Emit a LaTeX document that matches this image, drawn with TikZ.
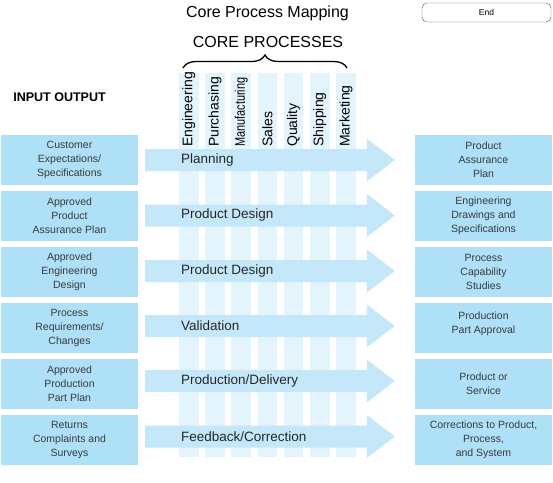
\documentclass[tikz,border=0pt]{standalone}
\usepackage{fontspec}
\setmainfont{Liberation Sans}
\usetikzlibrary{positioning, calc, decorations.pathreplacing}
\definecolor{boxBlue}{HTML}{AEE0F8}
\definecolor{arrowBlue}{HTML}{C4E8FA}
\definecolor{stripeBlue}{HTML}{E3F4FC}
\definecolor{textGray}{HTML}{3A3A3A}
\definecolor{frameGray}{HTML}{555555}

\begin{document}
\begin{tikzpicture}[
    x=1pt, y=-1pt,
    iobox/.style={rectangle, fill=boxBlue, minimum width=137pt, minimum height=50pt,
                  align=center, inner sep=0pt, text=textGray, font=\fontsize{10.5}{14}\selectfont},
    flow/.style={fill=arrowBlue},
    stripe/.style={fill=stripeBlue},
    steplabel/.style={anchor=west, inner sep=0pt, text=black!85, font=\fontsize{13.5}{16}\selectfont},
    dept/.style={rotate=90, anchor=west, inner sep=0pt, font=\fontsize{14}{16}\selectfont},
    heading/.style={inner sep=0pt, font=\fontsize{16}{19}\selectfont}
  ]
    \useasboundingbox (0,0) rectangle (553,482);

    % headings
    \node[heading] (title) at (267.5,13) {Core Process Mapping};
    \node[heading] (core) at (268,42) {CORE PROCESSES};
    \node[inner sep=0pt, font=\fontsize{12.5}{15}\selectfont\bfseries] (io) at (59.5,97) {INPUT OUTPUT};
    \node[draw=frameGray, rounded corners=5pt, minimum width=129pt, minimum height=19pt,
          inner sep=0pt, font=\fontsize{8.5}{10}\selectfont] (endbox) at (486.5,12.5) {End};

    % department columns
    \foreach \c in {0,...,6}
      \fill[stripe] (179+26.2*\c,73) rectangle ++(19.5,384);
    \foreach \c/\name in {0/Engineering, 1/Purchasing, 2/{\scalebox{0.78}[1]{Manufacturing}},
                          3/Sales, 4/Quality, 5/Shipping, 6/Marketing}
      \node[dept] (d\c) at (188.75+26.2*\c,147) {\name};
    \draw[decorate, decoration={brace, amplitude=13pt}, line width=1.3pt] (183,68) -- (347,68);

    % inputs and outputs
    \node[iobox] (in1) at (69.5,160) {Customer\\Expectations/\\Specifications};
    \node[iobox] (in2) at (69.5,216) {Approved\\Product\\Assurance Plan};
    \node[iobox] (in3) at (69.5,272) {Approved\\Engineering\\Design};
    \node[iobox] (in4) at (69.5,328) {Process\\Requirements/\\Changes};
    \node[iobox] (in5) at (69.5,384) {Approved\\Production\\Part Plan};
    \node[iobox] (in6) at (69.5,440) {Returns\\Complaints and\\Surveys};

    \node[iobox] (out1) at (483.5,160) {Product\\Assurance\\Plan};
    \node[iobox] (out2) at (483.5,216) {Engineering\\Drawings and\\Specifications};
    \node[iobox] (out3) at (483.5,272) {Process\\Capability\\Studies};
    \node[iobox] (out4) at (483.5,328) {Production\\Part Approval\\[-4pt]};
    \node[iobox] (out5) at (483.5,384) {Product or\\Service};
    \node[iobox] (out6) at (483.5,440) {Corrections to Product,\\Process,\\and System};

    % process arrows
    \foreach \i/\y/\step in {1/160/Planning, 2/215.5/Product Design, 3/271/Product Design,
                             4/326/Validation, 5/381/{Production/Delivery}, 6/436.5/{Feedback/Correction}} {
      \fill[flow] ($(in\i.east |- 0,\y)+(7,-11)$) -- ($(out\i.west |- 0,\y)+(-48,-11)$)
        -- ++(0,-10.5) -- ($(out\i.west |- 0,\y)+(-20,0)$) -- ++(-28,21.5) -- ++(0,-10.5)
        -- ($(in\i.east |- 0,\y)+(7,11)$) -- cycle;
      \node[steplabel] (p\i) at (181,\y) {\step};
    }
\end{tikzpicture}
\end{document}
